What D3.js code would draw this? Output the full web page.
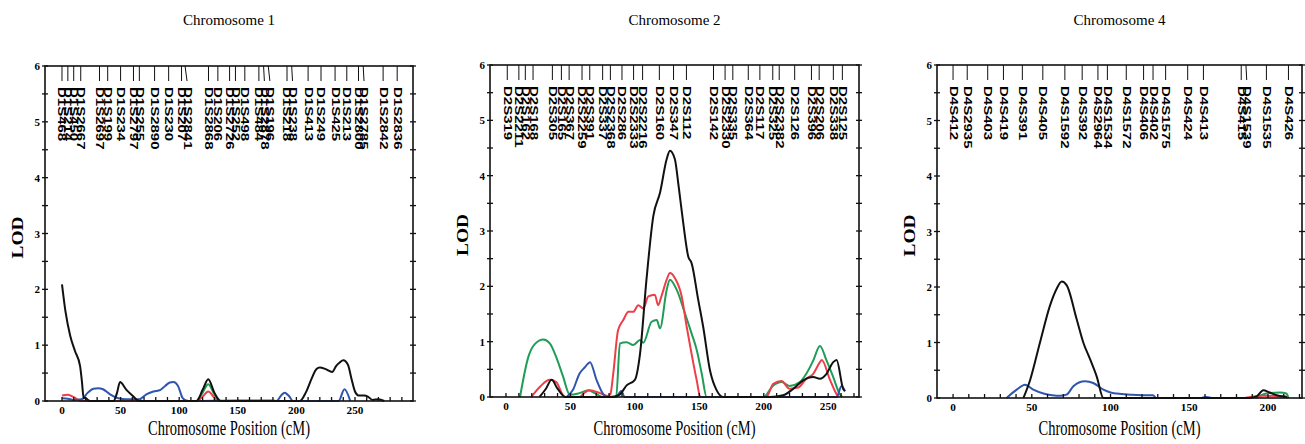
<!DOCTYPE html>
<html>
<head>
<meta charset="utf-8">
<script src="https://cdn.jsdelivr.net/npm/d3@7"></script>
<style>
  body { margin: 0; background: #fff; }
  svg { display: block; }
</style>
</head>
<body>
<script>
// ---- data: marker names and positions (cM) per chromosome ----
const chr1Markers = ["D1S468","D1S214","D1S450","D1S2667","D1S2697","D1S199","D1S234","D1S2797","D1S255","D1S2890","D1S230","D1S207","D1S2841","D1S2868","D1S206","D1S2726","D1S252","D1S498","D1S484","D1S2878","D1S196","D1S218","D1S238","D1S413","D1S249","D1S425","D1S213","D1S2800","D1S2785","D1S2842","D1S2836"];
const chr1MarkerPos = [0,5,10,16,32,39,50,61,66,79,91,102,105,125,133,143,148,156,168,172,176,192,196,210,221,233,243,253,257,274,286];

const chr2Markers = ["D2S319","D2S2211","D2S162","D2S168","D2S305","D2S165","D2S367","D2S2259","D2S391","D2S337","D2S2368","D2S286","D2S2333","D2S2216","D2S160","D2S347","D2S112","D2S142","D2S2330","D2S335","D2S364","D2S117","D2S325","D2S2382","D2S126","D2S396","D2S206","D2S338","D2S125"];
const chr2MarkerPos = [1,10,15,21,36,43,49,59,65,75,81,90,99,106,119,130,140,161,170,176,188,197,207,212,224,237,243,254,261];

const chr4Markers = ["D4S412","D4S2935","D4S403","D4S419","D4S391","D4S405","D4S1592","D4S392","D4S2964","D4S1534","D4S1572","D4S406","D4S402","D4S1575","D4S424","D4S413","D4S415","D4S1539","D4S1535","D4S426"];
const chr4MarkerPos = [0,9,22,32,44,57,71,82,92,98,110,121,127,135,149,159,183,186,199,213];

// ---- data: LOD curves, [cM, LOD] ----
const chr1Black = [[0,2.09],[3,1.6],[7,1.17],[11,0.9],[15.4,0.63],[17,0.35],[18.5,0.05],[20,0.06],[22,0.02],[24,0],[44,0],[47,0.15],[49.5,0.34],[55,0.2],[60,0.1],[66,0],[115,0],[120,0.2],[124.8,0.39],[130,0.15],[135,0],[203,0],[208,0.15],[213,0.4],[217,0.57],[220,0.6],[225,0.57],[230.5,0.52],[234,0.63],[237,0.69],[240,0.73],[244,0.65],[247,0.4],[250,0.17],[253,0.1],[258,0.1],[261,0.08],[265,0.02],[270,0.03],[275,0]];
const chr1Red = [[0,0.1],[5,0.11],[10,0.07],[14,0.02],[16,0],[115,0],[120,0.08],[124.8,0.17],[130,0.06],[133,0]];
const chr1Green = [[115,0],[120,0.15],[124.8,0.3],[130,0.12],[135,0]];
const chr1Blue = [[0,0.05],[5,0.04],[10,0.02],[16.7,0.03],[22,0.15],[26.7,0.22],[31,0.23],[35,0.21],[41,0.12],[48,0.05],[55,0.03],[66,0.03],[72,0.12],[78,0.17],[84,0.2],[88,0.27],[92,0.33],[95,0.34],[99,0.27],[103,0.05],[106,0.01],[110,0],[150,0.01],[180,0.01],[183,0],[187,0.1],[190,0.15],[194,0.08],[197,0],[236,0],[241,0.21],[246,0]];

const chr2Black = [[26,0],[31,0.15],[35.4,0.31],[40,0.15],[46,0],[80.7,0],[88,0.04],[93.6,0.21],[100,0.31],[104,0.78],[109,2.12],[114.3,3.27],[119.5,3.69],[124.7,4.3],[127.2,4.45],[131,4.3],[134,3.8],[137.5,3.15],[141.4,2.54],[144,2.42],[149.2,1.75],[153,1.27],[158.3,0.48],[163.5,0.12],[168.6,0],[204.8,0],[215,0.03],[223,0.15],[230.6,0.3],[238.4,0.36],[243.5,0.33],[248.7,0.42],[253.9,0.63],[256.5,0.67],[261.6,0.15],[263,0.11]];
const chr2Red = [[19.6,0],[27,0.2],[34,0.31],[39,0.27],[44,0.04],[46,0],[57,0],[61,0.08],[65,0.12],[73,0.07],[79,0.02],[81,0.05],[83.2,0.42],[87,1.21],[91,1.39],[95,1.54],[98.8,1.54],[102.6,1.66],[106.5,1.6],[110.4,1.82],[115.5,1.85],[118,1.66],[120.6,1.82],[124.7,2.12],[127.2,2.24],[131,2.15],[136.3,1.82],[140.2,1.27],[144,0.78],[148,0.3],[150.8,0],[202,0],[207.4,0.24],[213.8,0.29],[220,0.15],[226.8,0.17],[233,0.33],[238.4,0.42],[243.6,0.63],[245,0.67],[251.4,0.31],[256.5,0.05],[258,0]];
const chr2Green = [[10.9,0],[17.3,0.72],[22.5,0.96],[29,1.04],[34,0.97],[39,0.72],[44,0.39],[49.6,0.04],[57,0.07],[64,0.12],[69,0.07],[75,0],[85.5,0],[88.4,0.97],[93.5,0.99],[98.8,0.94],[104,1.03],[106.5,0.98],[113,1.36],[117,1.39],[119.5,1.24],[124.7,1.94],[127.2,2.12],[132.4,1.94],[138.9,1.51],[144,1.15],[148,0.85],[151.9,0.42],[155.7,0],[200,0],[207,0.2],[214,0.27],[220,0.2],[228,0.27],[233,0.42],[238.4,0.66],[243.6,0.92],[248.7,0.66],[253.9,0.36],[259,0.05],[261,0]];
const chr2Blue = [[47,0],[52,0.13],[57,0.42],[61.3,0.54],[65.2,0.63],[70.4,0.3],[75.5,0.05],[78,0],[85.5,0],[89.4,0.11],[92,0],[256.5,0],[260.4,0.2],[263,0.1]];

const chr4Black = [[44.7,0],[49,0.33],[55.2,1.0],[61.6,1.67],[65.8,1.97],[69,2.1],[72.2,2.03],[78.5,1.42],[82.7,1.0],[87,0.7],[91.2,0.39],[95.5,0],[188,0],[192.8,0.03],[197,0.14],[201,0.1],[205.5,0.05],[212,0.02]];
const chr4Red = [[185,0],[197,0.04],[210,0.03],[213,0]];
const chr4Green = [[192,0],[199,0.08],[207.5,0.1],[211.7,0.08],[213,0]];
const chr4Blue = [[34,0],[40.4,0.15],[45.7,0.24],[51,0.15],[57.4,0.08],[63,0.05],[68,0.04],[72,0.06],[76.4,0.21],[80,0.28],[83.8,0.3],[89,0.27],[95.5,0.15],[100,0.1],[104,0.08],[112.4,0.06],[120,0.05],[127,0.05],[129,0],[157,0],[160.6,0.02],[164,0]];

const xTickValues1 = [0,50,100,150,200,250];
const xTickValues4 = [0,50,100,150,200];
const yTickValues = [0,1,2,3,4,5,6];

const colors = { black: "#111", red: "#ee3e48", green: "#1f9d57", blue: "#2f56ad" };

// ---- layout ----
const panels = [
  { title: "Chromosome 1", left: 45, right: 413, top: 66, bottom: 401, xDomain: [-14.5, 299.5], xMax: 290,
    markers: chr1Markers, markerPos: chr1MarkerPos, ticks: xTickValues1,
    series: [[chr1Green, colors.green], [chr1Red, colors.red], [chr1Blue, colors.blue], [chr1Black, colors.black]] },
  { title: "Chromosome 2", left: 490, right: 859, top: 65, bottom: 397, xDomain: [-12.4, 273.9], xMax: 270,
    markers: chr2Markers, markerPos: chr2MarkerPos, ticks: xTickValues1,
    series: [[chr2Green, colors.green], [chr2Red, colors.red], [chr2Blue, colors.blue], [chr2Black, colors.black]] },
  { title: "Chromosome 4", left: 937, right: 1302, top: 65, bottom: 398, xDomain: [-10.2, 221.6], xMax: 220,
    markers: chr4Markers, markerPos: chr4MarkerPos, ticks: xTickValues4,
    series: [[chr4Green, colors.green], [chr4Red, colors.red], [chr4Blue, colors.blue], [chr4Black, colors.black]] }
];

const svg = d3.select("body").append("svg")
  .attr("width", 1305)
  .attr("height", 444);

panels.forEach(drawPanel);

function drawPanel(p) {
  const x = d3.scaleLinear().domain(p.xDomain).range([p.left, p.right]);
  const y = d3.scaleLinear().domain([0, 6]).range([p.bottom, p.top]);
  const g = svg.append("g");
  const cx = (p.left + p.right) / 2;

  // title
  g.append("text")
    .attr("x", cx).attr("y", 25)
    .attr("text-anchor", "middle")
    .attr("font-family", "Liberation Serif, Times New Roman, serif")
    .attr("font-size", 15)
    .text(p.title);

  // curves
  const line = d3.line()
    .x(d => x(d[0]))
    .y(d => y(d[1]))
    .curve(d3.curveMonotoneX);
  p.series.forEach(([data, color]) => {
    g.append("path")
      .datum(data)
      .attr("fill", "none")
      .attr("stroke", color)
      .attr("stroke-width", 2)
      .attr("stroke-linejoin", "round")
      .attr("d", line);
  });

  // y ticks (both sides, every 0.5)
  const yMinor = d3.range(0, 6.01, 0.5);
  yMinor.forEach(v => {
    [p.left, p.right].forEach(sx => {
      g.append("line")
        .attr("x1", sx - 3).attr("x2", sx + 3)
        .attr("y1", y(v)).attr("y2", y(v))
        .attr("stroke", "#111").attr("stroke-width", 1.3);
    });
  });

  // x ticks every 10 cM, pointing up
  d3.range(0, p.xMax + 1, 10).forEach(v => {
    g.append("line")
      .attr("x1", x(v)).attr("x2", x(v))
      .attr("y1", p.bottom).attr("y2", p.bottom - 4)
      .attr("stroke", "#111").attr("stroke-width", 1.3);
  });

  // frame
  g.append("rect")
    .attr("x", p.left).attr("y", p.top)
    .attr("width", p.right - p.left).attr("height", p.bottom - p.top)
    .attr("fill", "none")
    .attr("stroke", "#111")
    .attr("stroke-width", 1.6);

  // y tick labels
  g.selectAll(".ylab").data(yTickValues).enter().append("text")
    .attr("x", p.left - 5)
    .attr("y", d => y(d) + 4)
    .attr("text-anchor", "end")
    .attr("font-family", "Liberation Serif, Times New Roman, serif")
    .attr("font-weight", "bold")
    .attr("font-size", 11)
    .text(d => d);

  // x tick labels
  g.selectAll(".xlab").data(p.ticks).enter().append("text")
    .attr("x", d => x(d))
    .attr("y", p.bottom + 13)
    .attr("text-anchor", "middle")
    .attr("font-family", "Liberation Serif, Times New Roman, serif")
    .attr("font-weight", "bold")
    .attr("font-size", 11)
    .attr("textLength", d => String(d).length * 5.6)
    .attr("lengthAdjust", "spacingAndGlyphs")
    .text(d => d);

  // axis titles
  g.append("text")
    .attr("x", cx).attr("y", 435)
    .attr("text-anchor", "middle")
    .attr("font-family", "Liberation Serif, Times New Roman, serif")
    .attr("font-size", 21)
    .attr("textLength", 162)
    .attr("lengthAdjust", "spacingAndGlyphs")
    .text("Chromosome Position (cM)");

  g.append("text")
    .attr("transform", `translate(${p.left - 22},${(p.top + p.bottom) / 2 + 4}) rotate(-90)`)
    .attr("text-anchor", "middle")
    .attr("font-family", "Liberation Serif, Times New Roman, serif")
    .attr("font-weight", "bold")
    .attr("font-size", 16)
    .attr("textLength", 42)
    .attr("lengthAdjust", "spacingAndGlyphs")
    .text("LOD");

  // markers along the top: dodge labels so they don't collide
  const gap = 5.5;
  let prev = -Infinity;
  const labelX = p.markerPos.map(pos => {
    const lx = Math.max(x(pos), prev + gap);
    prev = lx;
    return lx;
  });
  p.markerPos.forEach((pos, i) => {
    g.append("line")
      .attr("x1", x(pos)).attr("y1", p.top)
      .attr("x2", labelX[i]).attr("y2", p.top + 15)
      .attr("stroke", "#111").attr("stroke-width", 1);
    g.append("text")
      .attr("transform", `translate(${labelX[i]},${p.top + 21}) rotate(90) scale(1.5,1)`)
      .attr("dominant-baseline", "central")
      .attr("font-family", "Liberation Sans, Arial, sans-serif")
      .attr("font-weight", "bold")
      .attr("font-size", 10)
      .text(p.markers[i]);
  });
}
</script>
</body>
</html>
